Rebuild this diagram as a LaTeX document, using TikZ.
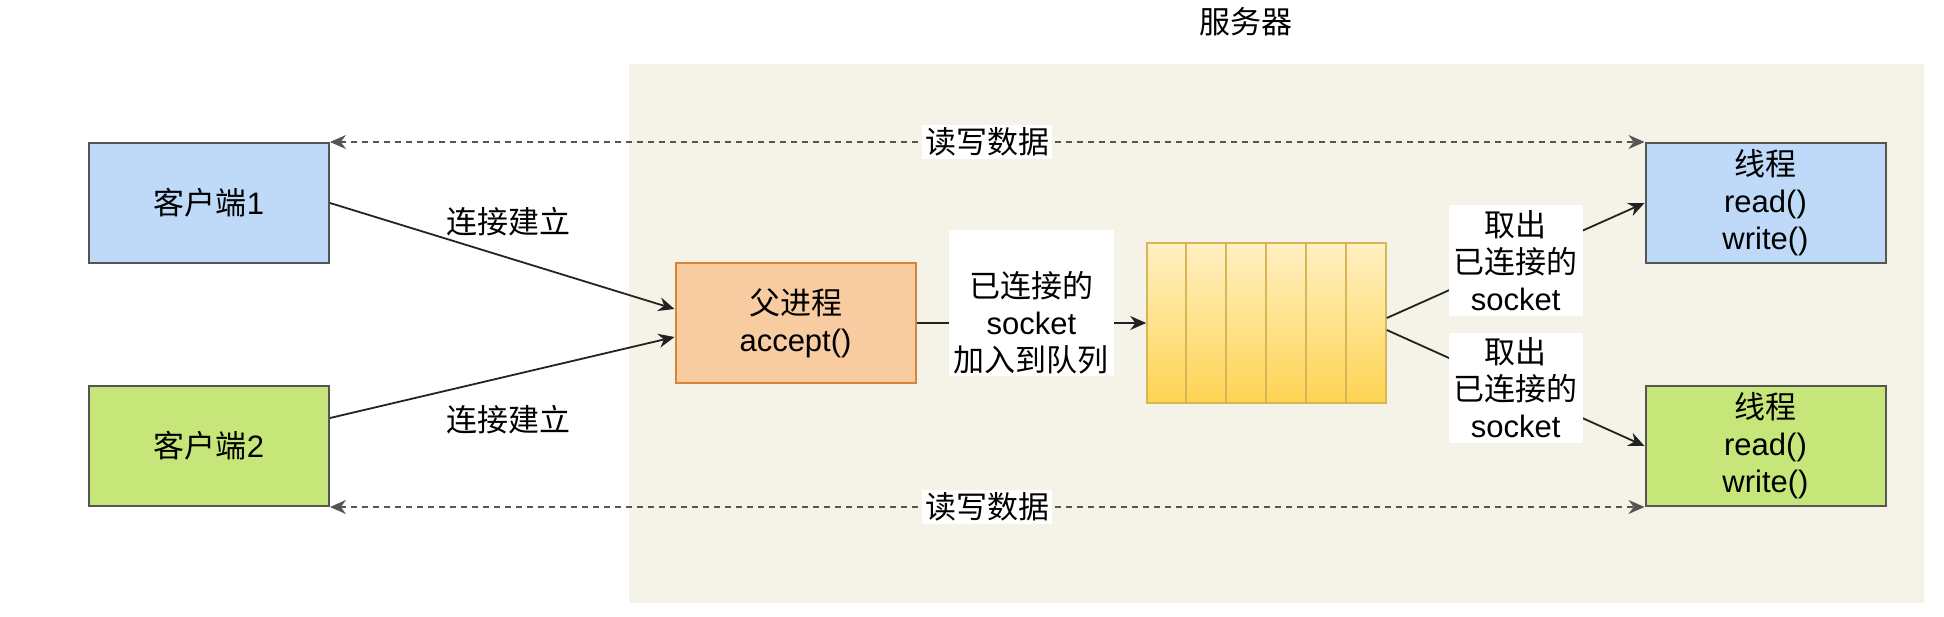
\documentclass[tikz,border=0pt]{standalone}
\usepackage{fontspec}
\setmainfont{Liberation Sans}
\newfontfamily\cjk{Noto Sans CJK SC}
\usepackage{tikz}
\usetikzlibrary{arrows.meta,positioning,shadings}

\definecolor{serverbg}{HTML}{F5F2E7}
\definecolor{clientblue}{HTML}{BEDAF8}
\definecolor{clientgreen}{HTML}{C6E67A}
\definecolor{boxline}{HTML}{555555}
\definecolor{parentfill}{HTML}{F8CBA0}
\definecolor{parentline}{HTML}{D6863B}
\definecolor{queuetop}{HTML}{FFF0C2}
\definecolor{queuebot}{HTML}{FFD452}
\definecolor{queueline}{HTML}{D6B656}
\definecolor{linec}{HTML}{222222}

\begin{document}
\begin{tikzpicture}[
    x=0.5pt, y=-0.5pt,
    node distance=60.5pt,
    txt/.style={font=\fontsize{15.5}{18.5}\selectfont},
    box/.style={rectangle, draw=boxline, line width=1pt, minimum width=120pt, minimum height=60pt, align=center, txt},
    lbl/.style={fill=white, align=center, inner sep=2.5pt, txt},
    arrow/.style={-{Stealth[length=8pt, width=7pt]}, line width=0.9pt, draw=linec},
    rw/.style={{Stealth[length=8pt, width=7pt]}-{Stealth[length=8pt, width=7pt]}, line width=0.8pt, draw=boxline, dash pattern=on 3pt off 2.5pt}
]
    \useasboundingbox (0,0) rectangle (1944,616);

    % server area
    \node[fill=serverbg, minimum width=647.5pt, minimum height=269.5pt, anchor=north west, inner sep=0pt] (server) at (629,64) {};
    \node[txt] (title) at (1246,22) {\cjk 服务器};

    % clients
    \node[box, fill=clientblue] (c1) at (209,203) {{\cjk 客户端}1};
    \node[box, fill=clientgreen, below=of c1] (c2) {{\cjk 客户端}2};

    % parent process and queue
    \node[box, fill=parentfill, draw=parentline] (parent) at (795.5,323) {{\cjk 父进程}\\accept()};
    \node[rectangle, draw=queueline, line width=0.8pt, top color=queuetop, bottom color=queuebot, minimum width=119.5pt, minimum height=80pt] (queue) at (1266.5,323) {};
    \foreach \i in {1,...,5}
        \draw[queueline, line width=0.8pt] (queue.north west) ++(\i*20pt,0) -- ++(0,-80pt);

    % threads
    \node[box, fill=clientblue] (t1) at (1765.5,203) {{\cjk 线程}\\read()\\write()};
    \node[box, fill=clientgreen, below=of t1] (t2) {{\cjk 线程}\\read()\\write()};

    % connections
    \draw[arrow] (c1.east) -- ([yshift=7pt]parent.west);
    \draw[arrow] ([yshift=14pt]c2.east) -- ([yshift=-7pt]parent.west);
    \node[txt] (conn1) at (508,222) {\cjk 连接建立};
    \node[txt] (conn2) at (508,420) {\cjk 连接建立};

    \draw[arrow] (parent.east) -- node[lbl, inner ysep=1pt, yshift=10pt] (enq) {\rule{0pt}{14.5pt}\\{\cjk 已连接的}\\socket\\{\cjk 加入到队列}} (queue.west);

    \draw[arrow] ([yshift=2.5pt]queue.east) -- node[lbl] (take1) {{\cjk 取出}\\{\cjk 已连接的}\\socket} (t1.west);
    \draw[arrow] ([yshift=-3.5pt]queue.east) -- node[lbl] (take2) {{\cjk 取出}\\{\cjk 已连接的}\\socket} (t2.west);

    % read / write
    \draw[rw] (c1.north east) -- node[lbl, inner sep=1.5pt] (rw1) {\cjk 读写数据} (t1.north west);
    \draw[rw] (c2.south east) -- node[lbl, inner sep=1.5pt] (rw2) {\cjk 读写数据} (t2.south west);
\end{tikzpicture}
\end{document}
